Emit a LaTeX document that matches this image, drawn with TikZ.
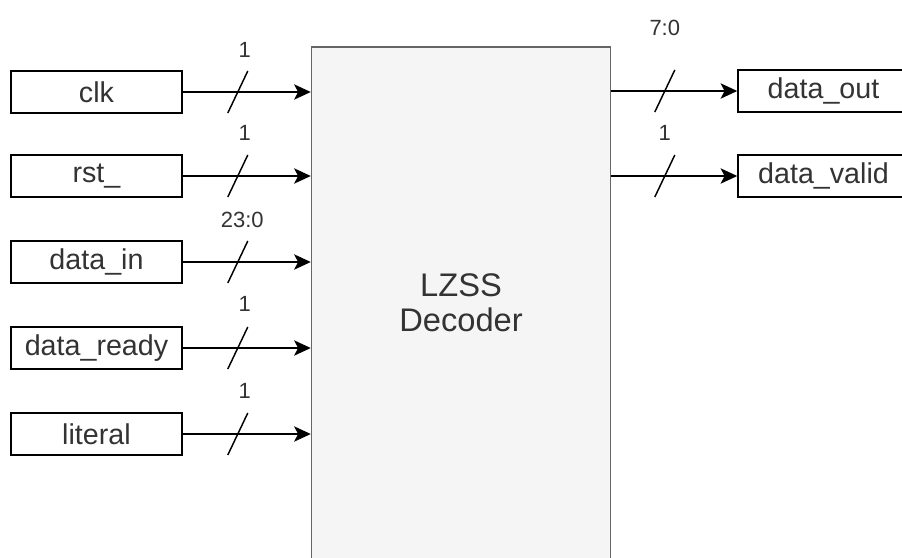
\documentclass[tikz,border=0pt]{standalone}
\usepackage{fontspec}
\setmainfont{Liberation Sans}
\usetikzlibrary{arrows.meta,calc}
\definecolor{txt}{HTML}{333333}
\definecolor{blockfill}{HTML}{F5F5F5}
\definecolor{blockline}{HTML}{666666}
\begin{document}
\begin{tikzpicture}[x=0.75pt,y=-0.75pt,
  portbox/.style={draw=black, line width=1.1pt, fill=white, minimum width=171*0.75pt, minimum height=42*0.75pt, inner sep=0pt, text=txt, font=\fontsize{21.5pt}{24pt}\selectfont},
  block/.style={draw=blockline, line width=1.1pt, fill=blockfill, minimum width=299*0.75pt, minimum height=512*0.75pt, inner sep=0pt, text=txt, align=center, font=\fontsize{24.5pt}{26.5pt}\selectfont},
  sig/.style={draw=black, line width=1.2pt, -{Stealth[length=12.5pt,width=11.5pt,inset=3pt]}},
  slash/.style={draw=black, line width=1.1pt},
  buslabel/.style={text=txt, inner sep=0pt, font=\fontsize{16.5pt}{18pt}\selectfont}
]
\useasboundingbox (0,0) rectangle (902,557);
\clip (0,0) rectangle (902,557);
\fill[white] (0,0) rectangle (902,557);

\node[block] (dec) at (461,303) {LZSS\\Decoder};

\node[portbox] (clk) at (96.5,92) {clk};
\node[portbox] (rst) at (96.5,176) {rst\_};
\node[portbox] (din) at (96.5,262) {data\_in};
\node[portbox] (drdy) at (96.5,348) {data\_ready};
\node[portbox] (lit) at (96.5,434) {literal};

\node[portbox] (dout) at (823.5,91) {data\_out};
\node[portbox] (dval) at (823.5,176) {data\_valid};

% inputs
\draw[sig] (clk.east) -- (clk.east -| dec.west);
\draw[sig] (rst.east) -- (rst.east -| dec.west);
\draw[sig] (din.east) -- (din.east -| dec.west);
\draw[sig] (drdy.east) -- (drdy.east -| dec.west);
\draw[sig] (lit.east) -- (lit.east -| dec.west);
% outputs
\draw[sig] (dec.east |- dout.west) -- (dout.west);
\draw[sig] (dec.east |- dval.west) -- (dval.west);

% bus slashes and widths
\coordinate (s1) at ($(clk.east)!0.43!(clk.east -| dec.west)$);
\coordinate (s2) at ($(rst.east)!0.43!(rst.east -| dec.west)$);
\coordinate (s3) at ($(din.east)!0.43!(din.east -| dec.west)$);
\coordinate (s4) at ($(drdy.east)!0.43!(drdy.east -| dec.west)$);
\coordinate (s5) at ($(lit.east)!0.43!(lit.east -| dec.west)$);
\coordinate (s6) at ($(dec.east |- dout.west)!0.425!(dout.west)$);
\coordinate (s7) at ($(dec.east |- dval.west)!0.425!(dval.west)$);

\draw[slash] ($(s1)+(-10,21)$) -- ($(s1)+(10,-21)$);
\draw[slash] ($(s2)+(-10,21)$) -- ($(s2)+(10,-21)$);
\draw[slash] ($(s3)+(-10,21)$) -- ($(s3)+(10,-21)$);
\draw[slash] ($(s4)+(-10,21)$) -- ($(s4)+(10,-21)$);
\draw[slash] ($(s5)+(-10,21)$) -- ($(s5)+(10,-21)$);
\draw[slash] ($(s6)+(-10,21)$) -- ($(s6)+(10,-21)$);
\draw[slash] ($(s7)+(-10,21)$) -- ($(s7)+(10,-21)$);

\node[buslabel] (w1) at ($(s1)+(7,-42)$) {1};
\node[buslabel] (w2) at ($(s2)+(7,-43)$) {1};
\node[buslabel] (w3) at ($(s3)+(4.5,-42)$) {23:0};
\node[buslabel] (w4) at ($(s4)+(7,-44)$) {1};
\node[buslabel] (w5) at ($(s5)+(7,-43)$) {1};
\node[buslabel] (w6) at ($(s6)+(0,-63)$) {7:0};
\node[buslabel] (w7) at ($(s7)+(0,-43)$) {1};
\end{tikzpicture}
\end{document}
